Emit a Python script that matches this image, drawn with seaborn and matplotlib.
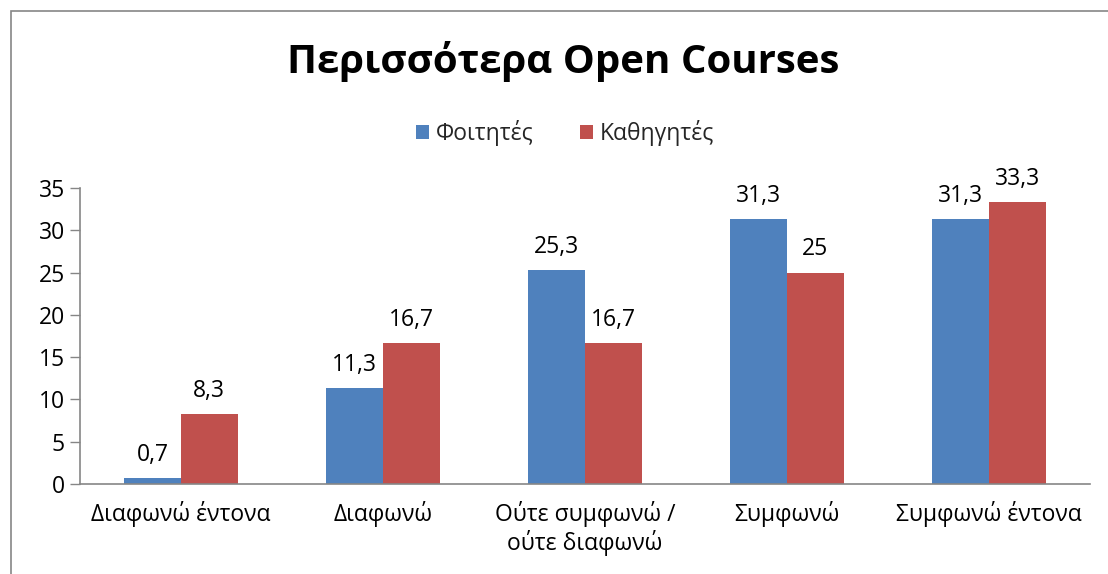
import matplotlib
matplotlib.use("Agg")
import matplotlib.pyplot as plt
import seaborn as sns
import pandas as pd
from matplotlib.patches import Rectangle

categories = ["Διαφωνώ έντονα", "Διαφωνώ", "Ούτε συμφωνώ /\nούτε διαφωνώ", "Συμφωνώ", "Συμφωνώ έντονα"]
series_names = ["Φοιτητές", "Καθηγητές"]
students = [0.7, 11.3, 25.3, 31.3, 31.3]
teachers = [8.3, 16.7, 16.7, 25, 33.3]
yticks = [0, 5, 10, 15, 20, 25, 30, 35]
title = "Περισσότερα Open Courses"
colors = ["#4F81BD", "#C0504D"]

df = pd.DataFrame({
    "cat": categories * 2,
    "series": [series_names[0]] * 5 + [series_names[1]] * 5,
    "value": students + teachers,
})

sns.set_theme(style="white")
plt.rcParams["font.family"] = ["Open Sans", "DejaVu Sans"]

FS = 16.5

fig = plt.figure(figsize=(11.08, 5.74), dpi=100)
ax = fig.add_axes([80/1108, 1-484/574, 1010/1108, 296/574])

sns.barplot(data=df, x="cat", y="value", hue="series", palette=colors,
            width=0.56, saturation=1, ax=ax, legend=True, order=categories,
            hue_order=series_names, linewidth=0)

for cont in ax.containers:
    labels = [f"{v:g}".replace(".", ",") for v in cont.datavalues]
    ax.bar_label(cont, labels=labels, padding=8, fontsize=FS, color="#000000")

ax.set_ylim(0, 35)
ax.set_xlim(-0.5, 4.5)
ax.set_yticks(yticks)
ax.set_xlabel("")
ax.set_ylabel("")
ax.tick_params(axis="y", labelsize=FS, length=7, width=1, color="#868686",
               direction="out", left=True, pad=4, labelcolor="#000000")
ax.tick_params(axis="x", labelsize=FS, length=0, pad=12, labelcolor="#000000")
for lbl in ax.get_xticklabels():
    lbl.set_linespacing(1.15)
    lbl.set_verticalalignment("top")
for s in ["top", "right"]:
    ax.spines[s].set_visible(False)
for s in ["left", "bottom"]:
    ax.spines[s].set_color("#868686")
    ax.spines[s].set_linewidth(1.2)

leg = ax.legend(loc="center", bbox_to_anchor=(565/1108, 1-133/574),
                bbox_transform=fig.transFigure, ncol=2, frameon=False,
                fontsize=FS, handlelength=0.6, handleheight=0.6,
                handletextpad=0.3, columnspacing=2.0)

fig.text(563/1108, 1-62/574, title, ha="center", va="center",
         fontsize=29, fontweight="bold", color="#000000")

fig.patches.append(Rectangle((11/1108, -0.1), 1.2, (1-11/574)+0.1,
                             transform=fig.transFigure, fill=False,
                             edgecolor="#868686", linewidth=1.2))

fig.savefig("out.png", dpi=100)
